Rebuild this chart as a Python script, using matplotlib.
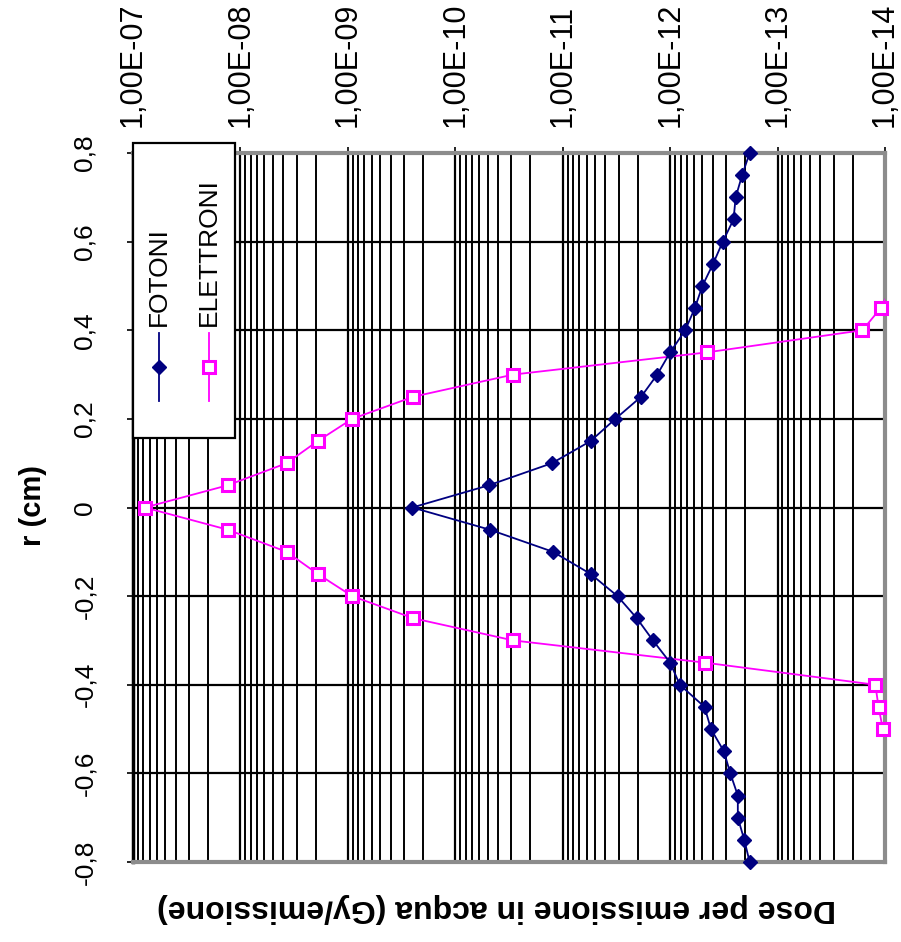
import numpy as np
import matplotlib
matplotlib.use('Agg')
import matplotlib.pyplot as plt
from matplotlib.lines import Line2D
from matplotlib.patches import Rectangle
from matplotlib.ticker import LogLocator, FixedLocator, FuncFormatter, NullFormatter

plt.rcParams['font.family'] = ['Liberation Sans', 'DejaVu Sans']

# r (cm) positions
r_fotoni = [-0.8, -0.75, -0.7, -0.65, -0.6, -0.55, -0.5, -0.45, -0.4, -0.35, -0.3,
            -0.25, -0.2, -0.15, -0.1, -0.05, 0.0, 0.05, 0.1, 0.15, 0.2, 0.25, 0.3,
            0.35, 0.4, 0.45, 0.5, 0.55, 0.6, 0.65, 0.7, 0.75, 0.8]
# log10 of dose (Gy/emissione)
log_fotoni = [-12.74, -12.69, -12.63, -12.63, -12.56, -12.50, -12.38, -12.32, -12.09,
              -12.00, -11.84, -11.69, -11.51, -11.26, -10.91, -10.32, -9.60, -10.31,
              -10.90, -11.26, -11.49, -11.73, -11.88, -12.00, -12.14, -12.23, -12.30,
              -12.40, -12.49, -12.59, -12.61, -12.67, -12.74]

r_elettroni = [-0.5, -0.45, -0.4, -0.35, -0.3, -0.25, -0.2, -0.15, -0.1, -0.05, 0.0,
               0.05, 0.1, 0.15, 0.2, 0.25, 0.3, 0.35, 0.4, 0.45, 0.5]
log_elettroni = [-13.98, -13.94, -13.91, -12.32, -10.54, -9.61, -9.04, -8.72, -8.43,
                 -7.88, -7.11, -7.88, -8.43, -8.72, -9.04, -9.61, -10.54, -12.34,
                 -13.79, -13.96, -14.07]

dose_ticks = [1e-7, 1e-8, 1e-9, 1e-10, 1e-11, 1e-12, 1e-13, 1e-14]
r_ticks = [-0.8, -0.6, -0.4, -0.2, 0.0, 0.2, 0.4, 0.6, 0.8]

W, H = 901, 942
BLUE = '#000080'
PINK = '#FF00FF'
GRAY = '#8c8c8c'


def px(x, y):
    # pixel (from top-left) -> figure fraction
    return x / W, 1 - y / H


def fmt_dose(v, pos):
    e = int(round(np.log10(v)))
    return '1,00E-%02d' % (-e)


def fmt_r(v, pos):
    if abs(v) < 1e-9:
        return '0'
    return ('%.1f' % v).replace('.', ',')


fig = plt.figure(figsize=(W / 100, H / 100), dpi=100)
ax = fig.add_axes([133 / W, 1 - 862 / H, (885 - 133) / W, (862 - 153) / H])

d_fot = 10 ** np.array(log_fotoni)
d_ele = 10 ** np.array(log_elettroni)

ax.plot(d_fot, r_fotoni, color=BLUE, lw=1.3, marker='D', ms=7, mfc=BLUE, mec=BLUE,
        clip_on=False, zorder=5)
ax.plot(d_ele, r_elettroni, color=PINK, lw=1.3, zorder=4)
# markers outside the axis range are not shown
d_ele_vis = np.where(d_ele >= 1e-14, d_ele, np.nan)
ax.plot(d_ele_vis, r_elettroni, ls='none', marker='s', ms=9, mfc='white', mec=PINK,
        mew=2.2, clip_on=False, zorder=6)

ax.set_xscale('log')
ax.set_xlim(1e-7, 1e-14)
ax.set_ylim(-0.8, 0.8)

ax.xaxis.set_major_locator(FixedLocator(dose_ticks))
ax.xaxis.set_minor_locator(LogLocator(base=10, subs=np.arange(2, 10), numticks=20))
ax.xaxis.set_major_formatter(FuncFormatter(fmt_dose))
ax.xaxis.set_minor_formatter(NullFormatter())
ax.xaxis.tick_top()
ax.yaxis.set_major_locator(FixedLocator(r_ticks))
ax.yaxis.set_major_formatter(FuncFormatter(fmt_r))

ax.grid(True, which='major', axis='both', color='black', lw=1.6)
ax.grid(True, which='minor', axis='x', color='black', lw=1.4)

ax.tick_params(axis='x', which='major', top=True, bottom=False, length=4, pad=15,
               labelsize=22, labelrotation=90, width=1.2)
ax.tick_params(axis='x', which='minor', top=False, bottom=False)
ax.tick_params(axis='y', which='major', left=True, length=4, pad=22,
               labelsize=19, labelrotation=90, width=1.2)
for lab in ax.get_yticklabels():
    lab.set_va('center')

for side in ['top', 'right', 'bottom']:
    ax.spines[side].set_color(GRAY)
    ax.spines[side].set_linewidth(3)
ax.spines['left'].set_color('black')
ax.spines['left'].set_linewidth(2.5)

# axis titles
fig.text(*px(33, 505), 'r (cm)', rotation=90, ha='center', va='center',
         fontsize=21, fontweight='bold')
fig.text(*px(497, 908), 'Dose per emissione in acqua (Gy/emissione)', rotation=180,
         ha='center', va='center', fontsize=23, fontweight='bold')

# legend (rotated), drawn by hand
x0, y0 = px(133, 438)
x1, y1 = px(235, 143)
fig.add_artist(Rectangle((x0, y0), x1 - x0, y1 - y0, transform=fig.transFigure,
                         facecolor='white', edgecolor='black', lw=1.6, zorder=10))
for xp, col, mk, label in [(159, BLUE, 'D', 'FOTONI'), (209, PINK, 's', 'ELETTRONI')]:
    xa, ya = px(xp, 401)
    xb, yb = px(xp, 333)
    fig.add_artist(Line2D([xa, xb], [ya, yb], transform=fig.transFigure, color=col,
                          lw=1.3, zorder=11))
    xm, ym = px(xp, 367)
    if mk == 'D':
        fig.add_artist(Line2D([xm], [ym], transform=fig.transFigure, marker='D', ms=7,
                              mfc=col, mec=col, zorder=12))
    else:
        fig.add_artist(Line2D([xm], [ym], transform=fig.transFigure, marker='s', ms=9,
                              mfc='white', mec=col, mew=2.2, zorder=12))
    fig.text(*px(xp, 326), label, rotation=90, ha='center', va='bottom',
             fontsize=19, zorder=12)

fig.savefig('out.png', dpi=100)
plt.close()
